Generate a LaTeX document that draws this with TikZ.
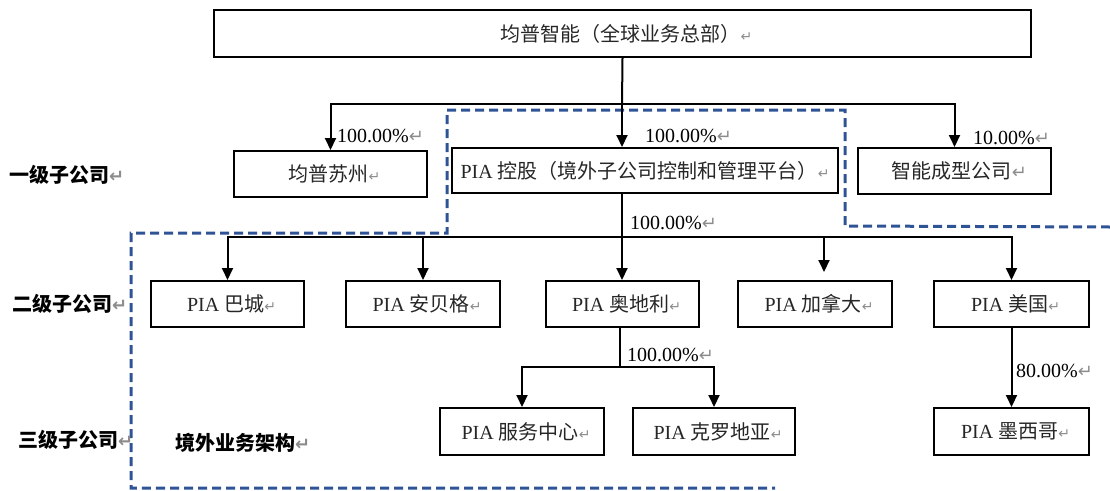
\documentclass[tikz,border=0pt]{standalone}
\usepackage{fontspec}
\setmainfont{Liberation Serif}
\newfontfamily\cjkfont{Noto Sans CJK SC}
\newfontfamily\retfont{DejaVu Sans}
\usetikzlibrary{arrows.meta}
\definecolor{dashblue}{RGB}{47,84,150}
\definecolor{retgray}{RGB}{140,140,140}
\newcommand\myzh[1]{{\cjkfont #1}}
\newcommand\myret{{\retfont\fontsize{14}{14}\selectfont\textcolor{retgray}{↵}}}
\newcommand\mybigret{{\retfont\fontsize{18}{18}\selectfont\textcolor{retgray}{↵}}}
\tikzset{
  box/.style={draw=black, line width=2pt, minimum height=46pt, inner sep=0pt,
    font=\fontsize{20}{24}\selectfont, text=black!85},
  conn/.style={line width=2pt, draw=black},
  arr/.style={conn, -{Triangle[length=12pt,width=11pt]}},
  pct/.style={anchor=west, inner sep=0pt, font=\fontsize{20}{24}\selectfont},
  rowlab/.style={anchor=west, inner sep=0pt, font=\fontsize{20}{24}\selectfont\cjkfont\bfseries},
  region/.style={draw=dashblue, line width=3pt, dash pattern=on 9pt off 5pt}
}
\begin{document}
\begin{tikzpicture}[x=1pt,y=-1pt]
\useasboundingbox (0,0) rectangle (1110,490);

% dashed region (overseas business)
\draw[region] (1110,227) -- (845,226) -- (845,110) -- (447,110) -- (447,233)
  -- (131,233) -- (131,488) -- (775,488);

% boxes
\node[box, minimum width=817pt, minimum height=47pt] (top) at (622.5,33.5) {\hspace{8pt}\myzh{均普智能（全球业务总部）}\myret};
\node[box, minimum width=193pt] (suzhou) at (330.5,174) {\hspace{8pt}\myzh{均普苏州}\myret};
\node[box, minimum width=386pt, minimum height=45pt] (kong) at (645,170.5) {PIA \myzh{控股（境外子公司控制和管理平台）}\myret};
\node[box, minimum width=193pt] (zhineng) at (954.5,171) {\hspace{10pt}\myzh{智能成型公司}\mybigret};

\node[box, minimum width=153pt] (bacheng) at (227.5,304) {\hspace{8pt}PIA \myzh{巴城}\myret};
\node[box, minimum width=154pt] (anbeige) at (423,304) {\hspace{8pt}PIA \myzh{安贝格}\myret};
\node[box, minimum width=153pt] (aodili) at (622.5,304) {\hspace{8pt}PIA \myzh{奥地利}\myret};
\node[box, minimum width=154pt] (jianada) at (815,304) {\hspace{8pt}PIA \myzh{加拿大}\myret};
\node[box, minimum width=155pt] (meiguo) at (1011.5,304) {\hspace{8pt}PIA \myzh{美国}\myret};

\node[box, minimum width=164pt, minimum height=47pt] (fuwu) at (522,431.5) {\hspace{8pt}PIA \myzh{服务中心}\myret};
\node[box, minimum width=162pt, minimum height=47pt] (keluo) at (714,431.5) {\hspace{8pt}PIA \myzh{克罗地亚}\myret};
\node[box, minimum width=155pt, minimum height=47pt] (moxige) at (1011.5,431.5) {\hspace{8pt}PIA \myzh{墨西哥}\myret};

% connectors
\coordinate (b1) at (622,104);
\draw[conn] (top.south) -- (b1);
\draw[arr] (b1) -- (b1 |- kong.north);
\draw[arr] (b1) -| (suzhou.north);
\draw[arr] (b1) -| (zhineng.north);

\coordinate (b2) at (622,237);
\coordinate (jn) at (824,272);
\draw[conn] (b1 |- kong.south) -- (b2);
\draw[arr] (b2) -| (bacheng.north);
\draw[arr] (b2) -| (anbeige.north);
\draw[arr] (b2) -- (b2 |- aodili.north);
\draw[arr] (b2) -| (jn);
\draw[arr] (b2) -| (meiguo.north);

\coordinate (b3) at (620,367);
\draw[conn] (aodili.south -| b3) -- (b3);
\draw[arr] (b3) -| (fuwu.north);
\draw[arr] (b3) -| (keluo.north);

\draw[arr] (meiguo.south) -- (moxige.north);

% percentage labels
\node[pct] (p1) at (337,136) {100.00\%\mybigret};
\node[pct] (p2) at (645,136) {100.00\%\mybigret};
\node[pct] (p3) at (973,138) {10.00\%\mybigret};
\node[pct] (p4) at (630,223) {100.00\%\mybigret};
\node[pct] (p5) at (627,355) {100.00\%\mybigret};
\node[pct] (p6) at (1016,371) {80.00\%\mybigret};

% row labels
\node[rowlab] (r1) at (9,175) {一级子公司\mybigret};
\node[rowlab] (r2) at (12,304) {二级子公司\mybigret};
\node[rowlab] (r3) at (18,440) {三级子公司\mybigret};
\node[rowlab] (r4) at (175,443) {境外业务架构\mybigret};
\end{tikzpicture}
\end{document}
